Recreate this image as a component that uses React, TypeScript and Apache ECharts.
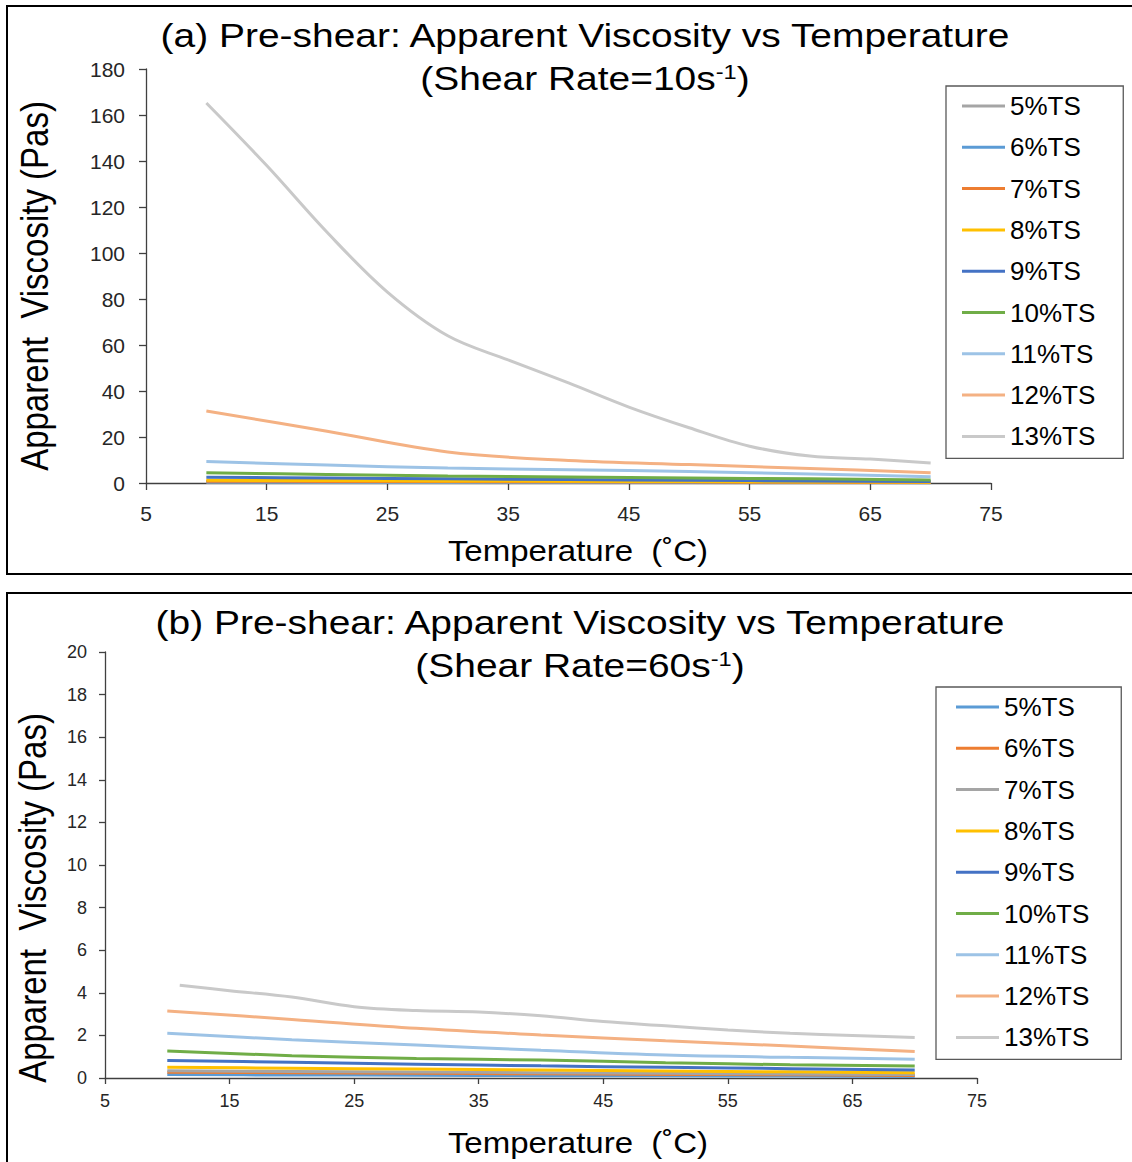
import React, { useEffect, useRef } from "react";
import * as echarts from "echarts";

// ---------- data ----------
const seriesNames = ["5%TS", "6%TS", "7%TS", "8%TS", "9%TS", "10%TS", "11%TS", "12%TS", "13%TS"];

// (a) shear rate 10 s^-1
const tempsA = [10, 20, 30, 40, 50, 60, 70];
const temps13A = [10, 15, 20, 25, 30, 35, 40, 45, 50, 55, 60, 65, 70];
const a5 = [0.3, 0.27, 0.24, 0.2, 0.17, 0.13, 0.1];
const a6 = [0.5, 0.45, 0.4, 0.33, 0.27, 0.2, 0.15];
const a7 = [0.8, 0.7, 0.6, 0.5, 0.4, 0.3, 0.2];
const a8 = [1.2, 1.05, 0.9, 0.75, 0.6, 0.45, 0.3];
const a9 = [2.5, 2.15, 1.8, 1.5, 1.2, 0.9, 0.6];
const a10 = [4.5, 3.7, 3.0, 2.6, 2.2, 1.8, 1.3];
const a11 = [9.3, 7.8, 6.5, 5.8, 5.0, 3.9, 2.7];
const a12 = [31.3, 22.5, 13.5, 9.8, 8.0, 6.3, 4.5];
const a13 = [165.2, 138, 109, 83, 64, 53.5, 43.5, 33, 24, 16, 11.7, 10.4, 8.7];

// (b) shear rate 60 s^-1
const tempsB = [10, 20, 30, 40, 50, 60, 70];
const temps13B = [11, 15, 20, 25, 30, 35, 40, 45, 50, 55, 60, 65, 70];
const b5 = [0.16, 0.14, 0.13, 0.11, 0.1, 0.09, 0.07];
const b6 = [0.27, 0.25, 0.22, 0.2, 0.17, 0.15, 0.12];
const b7 = [0.34, 0.31, 0.28, 0.25, 0.22, 0.19, 0.16];
const b8 = [0.5, 0.46, 0.42, 0.38, 0.33, 0.29, 0.25];
const b9 = [0.82, 0.74, 0.65, 0.57, 0.5, 0.44, 0.38];
const b10 = [1.27, 1.05, 0.92, 0.84, 0.72, 0.62, 0.56];
const b11 = [2.1, 1.8, 1.55, 1.3, 1.08, 0.97, 0.88];
const b12 = [3.15, 2.75, 2.33, 2.02, 1.75, 1.5, 1.24];
const b13 = [4.35, 4.1, 3.8, 3.35, 3.17, 3.1, 2.92, 2.65, 2.45, 2.25, 2.1, 2.0, 1.9];

const colorsA = ["#A5A5A5", "#5B9BD5", "#ED7D31", "#FFC000", "#4472C4", "#70AD47", "#9DC3E6", "#F4B183", "#C9C9C9"];
const colorsB = ["#5B9BD5", "#ED7D31", "#A5A5A5", "#FFC000", "#4472C4", "#70AD47", "#9DC3E6", "#F4B183", "#C9C9C9"];

const xTicksMin = 5;
const xTicksMax = 75;
const xTickStep = 10;

const FONT = "'Liberation Sans', Arial, Helvetica, sans-serif";
const STRETCH = 1.18;

function pairs(xs: number[], ys: number[]) {
  return xs.map((x, i) => [x, ys[i]]);
}

function buildOption(cfg: {
  grid: { left: number; top: number; width: number; height: number };
  yMax: number;
  yStep: number;
  tickFont: number;
  xTickFont: number;
  yLabelMargin: number;
  xLabelMargin: number;
  tickLen: number;
  legendPos: { left: number; top: number };
  legendPadding: number[];
  data: number[][][];
  colors: string[];
  title1: string;
  title2: string;
  titleX: number;
  title1Y: number;
  title2Y: number;
  xName: { x: number; y: number };
  yName: { x: number; y: number };
  border: { x: number; y: number; width: number; height: number };
}) {
  const axisColor = "#404040";
  const labelColor = "#262626";
  return {
    animation: false,
    backgroundColor: "#ffffff",
    grid: { ...cfg.grid, containLabel: false },
    xAxis: {
      type: "value",
      min: xTicksMin,
      max: xTicksMax,
      interval: xTickStep,
      axisLine: { show: true, onZero: false, lineStyle: { color: axisColor, width: 1.3 } },
      axisTick: { show: true, length: cfg.tickLen, lineStyle: { color: axisColor, width: 1.3 } },
      axisLabel: { fontSize: cfg.xTickFont, color: labelColor, fontFamily: FONT, margin: cfg.xLabelMargin },
      splitLine: { show: false },
    },
    yAxis: {
      type: "value",
      min: 0,
      max: cfg.yMax,
      interval: cfg.yStep,
      axisLine: { show: true, lineStyle: { color: axisColor, width: 1.3 } },
      axisTick: { show: true, length: cfg.tickLen, lineStyle: { color: axisColor, width: 1.3 } },
      axisLabel: { fontSize: cfg.tickFont, color: labelColor, fontFamily: FONT, margin: cfg.yLabelMargin },
      splitLine: { show: false },
    },
    legend: {
      orient: "vertical",
      left: cfg.legendPos.left,
      top: cfg.legendPos.top,
      padding: cfg.legendPadding,
      itemGap: 13.3,
      itemWidth: 43,
      itemHeight: 3,
      icon: "rect",
      borderColor: "#595959",
      borderWidth: 1.3,
      backgroundColor: "#ffffff",
      textStyle: { fontSize: 26, lineHeight: 28, color: "#000", fontFamily: FONT },
      data: seriesNames,
    },
    series: seriesNames.map((name, i) => ({
      name,
      type: "line",
      data: cfg.data[i],
      smooth: 0.35,
      symbol: "none",
      lineStyle: { width: 3, color: cfg.colors[i] },
      itemStyle: { color: cfg.colors[i] },
    })),
    graphic: [
      {
        type: "rect",
        shape: cfg.border,
        style: { fill: "none", stroke: "#000", lineWidth: 2 },
        silent: true,
        z: 100,
      },
      {
        type: "text",
        x: cfg.titleX,
        y: cfg.title1Y,
        scaleX: STRETCH,
        style: { text: cfg.title1, font: `33px ${FONT}`, fill: "#000", align: "center", verticalAlign: "middle" },
      },
      {
        type: "text",
        x: cfg.titleX,
        y: cfg.title2Y,
        scaleX: STRETCH,
        style: {
          text: cfg.title2,
          fontSize: 33,
          fontFamily: FONT,
          fill: "#000",
          align: "center",
          verticalAlign: "middle",
          rich: { sup: { fontSize: 20, fontFamily: FONT, verticalAlign: "top", fill: "#000" } },
        },
      },
      {
        type: "text",
        x: cfg.xName.x,
        y: cfg.xName.y,
        scaleX: 1.1,
        style: { text: "Temperature  (˚C)", font: `30px ${FONT}`, fill: "#000", align: "center", verticalAlign: "middle" },
      },
      {
        type: "text",
        x: cfg.yName.x,
        y: cfg.yName.y,
        rotation: Math.PI / 2,
        scaleY: STRETCH,
        style: { text: "Apparent  Viscosity (Pas)", font: `33px ${FONT}`, fill: "#000", align: "center", verticalAlign: "middle" },
      },
    ],
  };
}

const dataA = [
  pairs(tempsA, a5), pairs(tempsA, a6), pairs(tempsA, a7), pairs(tempsA, a8), pairs(tempsA, a9),
  pairs(tempsA, a10), pairs(tempsA, a11), pairs(tempsA, a12), pairs(temps13A, a13),
];
const dataB = [
  pairs(tempsB, b5), pairs(tempsB, b6), pairs(tempsB, b7), pairs(tempsB, b8), pairs(tempsB, b9),
  pairs(tempsB, b10), pairs(tempsB, b11), pairs(tempsB, b12), pairs(temps13B, b13),
];

const B_OFFSET = 584;

function ChartBox(props: { option: any; top: number; height: number }) {
  const ref = useRef<HTMLDivElement>(null);
  useEffect(() => {
    if (!ref.current) return;
    const chart = echarts.init(ref.current, null, { renderer: "svg" });
    chart.setOption(props.option);
    return () => chart.dispose();
  }, []);
  return (
    <div
      ref={ref}
      style={{ position: "absolute", left: 0, top: props.top, width: 1132, height: props.height }}
    />
  );
}

export default function App() {
  const optA = buildOption({
    grid: { left: 146, top: 69, width: 845, height: 414 },
    yMax: 180,
    yStep: 20,
    tickFont: 21,
    xTickFont: 21,
    yLabelMargin: 21,
    xLabelMargin: 20,
    tickLen: 7,
    legendPos: { left: 946, top: 86 },
    legendPadding: [6, 28, 8, 16],
    data: dataA,
    colors: colorsA,
    title1: "(a) Pre-shear: Apparent Viscosity vs Temperature",
    title2: "(Shear Rate=10s{sup|-1})",
    titleX: 585,
    title1Y: 36,
    title2Y: 79,
    xName: { x: 578, y: 551 },
    yName: { x: 35, y: 286 },
    border: { x: 7, y: 6, width: 1135, height: 568 },
  });
  const optB = buildOption({
    grid: { left: 105, top: 652 - B_OFFSET, width: 872, height: 426 },
    yMax: 20,
    yStep: 2,
    tickFont: 18,
    xTickFont: 18,
    yLabelMargin: 18,
    xLabelMargin: 14,
    tickLen: 6,
    legendPos: { left: 936, top: 687 - B_OFFSET },
    legendPadding: [6, 32, 8, 20],
    data: dataB,
    colors: colorsB,
    title1: "(b) Pre-shear: Apparent Viscosity vs Temperature",
    title2: "(Shear Rate=60s{sup|-1})",
    titleX: 580,
    title1Y: 623 - B_OFFSET,
    title2Y: 666 - B_OFFSET,
    xName: { x: 578, y: 1143 - B_OFFSET },
    yName: { x: 33, y: 898 - B_OFFSET },
    border: { x: 7, y: 593 - B_OFFSET, width: 1135, height: 620 },
  });
  return (
    <div style={{ position: "absolute", left: 0, top: 0, width: 1132, height: 1162, background: "#fff", overflow: "hidden" }}>
      <ChartBox option={optA} top={0} height={B_OFFSET} />
      <ChartBox option={optB} top={B_OFFSET} height={1162 - B_OFFSET} />
    </div>
  );
}
